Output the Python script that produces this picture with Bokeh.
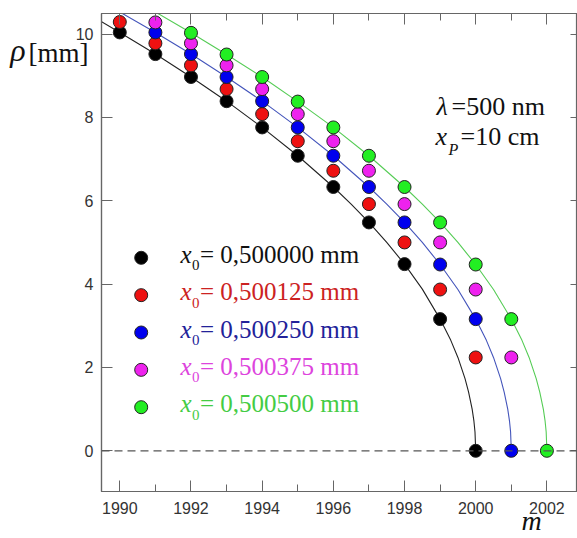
from bokeh.plotting import figure
from bokeh.models import (Range1d, LinearAxis, SingleIntervalTicker, FixedTicker, Span, Label,
                          PrintfTickFormatter)
from bokeh.embed import file_html
from bokeh.resources import INLINE

# ---------------- data ----------------
m_black = [1990, 1991, 1992, 1993, 1994, 1995, 1996, 1997, 1998, 1999, 2000]
rho_black = [10.04, 9.52, 8.97, 8.39, 7.76, 7.08, 6.33, 5.48, 4.48, 3.16, 0.0]
m_red = [1990, 1991, 1992, 1993, 1994, 1995, 1996, 1997, 1998, 1999, 2000]
rho_red = [10.29, 9.78, 9.25, 8.68, 8.08, 7.43, 6.72, 5.92, 5.00, 3.87, 2.24]
m_blue = [1991, 1992, 1993, 1994, 1995, 1996, 1997, 1998, 1999, 2000, 2001]
rho_blue = [10.04, 9.52, 8.97, 8.39, 7.76, 7.08, 6.33, 5.48, 4.47, 3.16, 0.0]
m_mag = [1991, 1992, 1993, 1994, 1995, 1996, 1997, 1998, 1999, 2000, 2001]
rho_mag = [10.28, 9.78, 9.25, 8.68, 8.08, 7.43, 6.72, 5.92, 5.00, 3.87, 2.24]
m_green = [1992, 1993, 1994, 1995, 1996, 1997, 1998, 1999, 2000, 2001, 2002]
rho_green = [10.03, 9.51, 8.97, 8.38, 7.76, 7.08, 6.33, 5.48, 4.47, 3.16, 0.0]

curve_black_m = [1989.4, 1990, 1991, 1992, 1993, 1994, 1995, 1996, 1996.5, 1997, 1997.5,
                 1998, 1998.5, 1999, 1999.3, 1999.5, 1999.7, 1999.8, 1999.9, 1999.95, 1999.98, 2000]
curve_black_rho = [10.34, 10.04, 9.52, 8.97, 8.39, 7.76, 7.08, 6.33, 5.92, 5.48, 5.00,
                   4.48, 3.88, 3.16, 2.65, 2.24, 1.73, 1.41, 1.00, 0.71, 0.45, 0.0]
curve_blue_m = [1990.0, 1991, 1992, 1993, 1994, 1995, 1996, 1997, 1997.5, 1998, 1998.5,
                1999, 1999.5, 2000, 2000.3, 2000.5, 2000.7, 2000.8, 2000.9, 2000.95, 2000.98, 2001]
curve_blue_rho = [10.53, 10.04, 9.52, 8.97, 8.39, 7.76, 7.08, 6.33, 5.92, 5.48, 5.00,
                  4.47, 3.87, 3.16, 2.65, 2.24, 1.73, 1.41, 1.00, 0.71, 0.45, 0.0]
curve_green_m = [1991.0, 1992, 1993, 1994, 1995, 1996, 1997, 1998, 1998.5, 1999, 1999.5,
                 2000, 2000.5, 2001, 2001.3, 2001.5, 2001.7, 2001.8, 2001.9, 2001.95, 2001.98, 2002]
curve_green_rho = [10.53, 10.03, 9.51, 8.97, 8.38, 7.76, 7.08, 6.33, 5.92, 5.48, 5.00,
                   4.47, 3.87, 3.16, 2.65, 2.24, 1.73, 1.41, 1.00, 0.71, 0.45, 0.0]

legend_values = ["= 0,500000 mm", "= 0,500125 mm", "= 0,500250 mm", "= 0,500375 mm", "= 0,500500 mm"]
x_ticks_interval = 2
y_ticks_interval = 2

# ---------------- styles ----------------
marker_colors = ["#000000", "#ee1111", "#0000ee", "#ee22ee", "#22ee22"]
text_colors = ["#111111", "#cc2222", "#222299", "#dd44dd", "#44cc44"]
AXIS_COL = "#666666"
SERIF = "Liberation Serif"

X0, X1 = 1989.486, 2002.86
Y0, Y1 = -0.977, 10.494
W, H = 577, 538
MBL, MBR, MBT, MBB = 101, 0, 13, 47
FL, FT = MBL, MBT          # page coords of frame top-left
sx = (W - MBL - MBR) / (X1 - X0)
sy = (H - MBT - MBB) / (Y1 - Y0)

p = figure(width=W, height=H, x_range=Range1d(X0, X1), y_range=Range1d(Y0, Y1),
           output_backend="svg", toolbar_location=None,
           min_border_left=MBL, min_border_right=MBR, min_border_top=MBT, min_border_bottom=MBB)
p.xgrid.visible = False
p.ygrid.visible = False
p.outline_line_color = AXIS_COL
p.outline_line_width = 1.2
p.background_fill_color = "white"
p.border_fill_color = "white"

xt = SingleIntervalTicker(interval=x_ticks_interval, num_minor_ticks=2)
yt = SingleIntervalTicker(interval=y_ticks_interval, num_minor_ticks=0)
p.xaxis.ticker = xt
p.yaxis.ticker = yt
for ax in (p.xaxis[0], p.yaxis[0]):
    ax.axis_line_color = AXIS_COL
    ax.axis_line_width = 1.2
    ax.major_tick_line_color = AXIS_COL
    ax.minor_tick_line_color = AXIS_COL
    ax.major_tick_in = 11
    ax.major_tick_out = 0
    ax.minor_tick_in = 7
    ax.minor_tick_out = 0
    ax.major_label_text_font = "Liberation Sans"
    ax.major_label_text_font_size = "16px"
    ax.major_label_text_color = "#333333"
p.xaxis.major_label_standoff = 10
p.yaxis.major_label_standoff = 8
p.yaxis.minor_tick_line_color = None

top = LinearAxis(ticker=SingleIntervalTicker(interval=x_ticks_interval, num_minor_ticks=2),
                 formatter=PrintfTickFormatter(format=""),
                 major_label_text_font_size="1px", major_tick_in=11, major_tick_out=0,
                 minor_tick_in=7, minor_tick_out=0, major_label_standoff=0,
                 axis_line_color=AXIS_COL, major_tick_line_color=AXIS_COL, minor_tick_line_color=AXIS_COL)
p.add_layout(top, "above")
right = LinearAxis(ticker=SingleIntervalTicker(interval=y_ticks_interval, num_minor_ticks=0),
                   formatter=PrintfTickFormatter(format=""),
                   major_label_text_font_size="1px", major_tick_in=7, major_tick_out=0,
                   minor_tick_line_color=None, major_label_standoff=0,
                   axis_line_color=AXIS_COL, major_tick_line_color=AXIS_COL)
p.add_layout(right, "right")


def title_axis(tick, text, size, style, standoff):
    return LinearAxis(ticker=FixedTicker(ticks=[tick]), formatter=PrintfTickFormatter(format=text),
                      major_label_text_font=SERIF, major_label_text_font_size=f"{size}px",
                      major_label_text_font_style=style, major_label_text_color="#111111",
                      major_label_standoff=standoff, major_tick_line_color=None,
                      minor_tick_line_color=None, axis_line_color=None,
                      major_tick_in=0, major_tick_out=0)


# y title "ρ [mm]" (two stacked label-only axes) and x title "m"
p.add_layout(title_axis(9.54, "[mm]", 27, "normal", -16), "left")
p.add_layout(title_axis(9.61, "\u03c1", 32, "italic", 0), "left")
p.add_layout(title_axis(2001.57, "m", 28, "italic", -12), "below")

p.add_layout(Span(location=0, dimension="width", line_color="#555555", line_width=1.2, line_dash="8 5"))

# curves
p.line(curve_black_m, curve_black_rho, line_color="#222222", line_width=1.1)
p.line(curve_blue_m, curve_blue_rho, line_color="#4455bb", line_width=1.1)
p.line(curve_green_m, curve_green_rho, line_color="#55cc55", line_width=1.1)

series = [(m_black, rho_black), (m_red, rho_red), (m_blue, rho_blue), (m_mag, rho_mag), (m_green, rho_green)]
for (mm, rr), c in zip(series, marker_colors):
    p.scatter(mm, rr, size=13, fill_color=c, line_color="#222222", line_width=1)


def px2x(px):
    return X0 + (px - FL) / sx


def py2y(py):
    return Y1 - (py - FT) / sy


def lab(px, py, text, size, color="#111111", style="normal", align="left", font=SERIF):
    # (px, py): page position of the text's left edge and vertical middle
    p.add_layout(Label(x=X0, y=Y1, x_offset=px - FL, y_offset=FT - py, text=text,
                       text_font=font, text_font_size=f"{size}px", text_color=color,
                       text_font_style=style, text_align=align, text_baseline="middle"))


# legend
LEG_MX, LEG_MY0, LEG_DY = 140.7, 257.3, 37.35
leg_y = [py2y(LEG_MY0 + i * LEG_DY) for i in range(5)]
for i, c in enumerate(marker_colors):
    p.scatter([px2x(LEG_MX)], [leg_y[i]], size=13, fill_color=c, line_color="#222222", line_width=1)
for i, (txt, tc) in enumerate(zip(legend_values, text_colors)):
    mid = 253.8 + i * LEG_DY
    lab(180, mid, "x", 25, tc, "italic")
    lab(191.5, mid + 11, "0", 15, tc)
    lab(199.5, mid, txt, 25, tc)

# annotation
lab(436, 106, "\u03bb", 26, "#111111", "italic")
lab(451, 106, "=500 nm", 26)
lab(435, 136, "x", 26, "#111111", "italic")
lab(448, 149, "P", 16, "#111111", "italic")
lab(460, 136, "=10 cm", 26)

open("out.html", "w").write(file_html(p, INLINE))
